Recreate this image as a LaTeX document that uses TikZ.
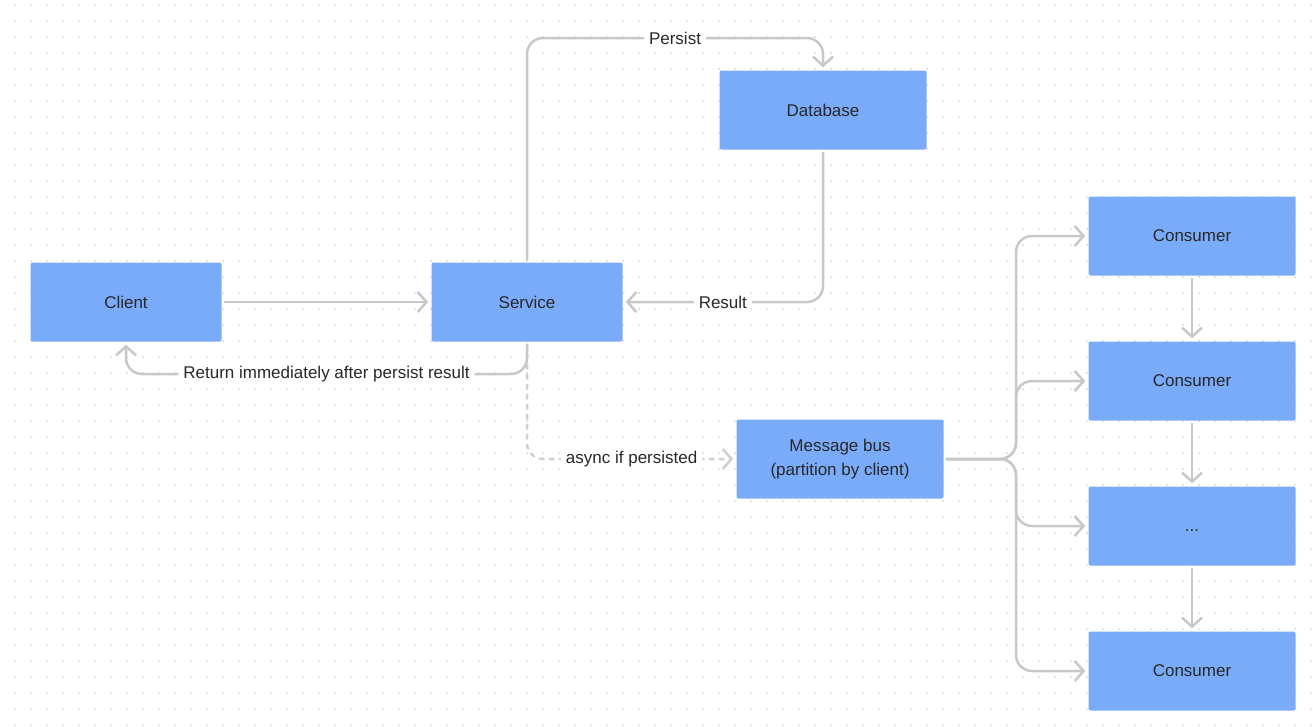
\documentclass[tikz,border=0pt]{standalone}
\usepackage{fontspec}
\setmainfont{Liberation Sans}
\usepackage{tikz}
\usetikzlibrary{arrows.meta}
\usetikzlibrary{positioning}
\definecolor{boxblue}{RGB}{122,171,249}
\definecolor{linkgray}{RGB}{200,200,200}
\definecolor{dashgray}{RGB}{208,208,208}
\definecolor{dotgray}{RGB}{226,226,226}
\definecolor{textgray}{RGB}{40,40,40}

\begin{document}
\begin{tikzpicture}[x=1pt,y=-1pt,line cap=round,line join=round,
	box/.style={draw=none,fill=boxblue,rounded corners=2pt,minimum width=191pt,minimum height=79pt,inner sep=0pt,text=textgray,font=\fontsize{17}{24}\selectfont,align=center},
	widebox/.style={box,minimum width=207pt},
	lbl/.style={fill=white,text=textgray,inner sep=5pt,font=\fontsize{17}{20}\selectfont},
	link/.style={color=linkgray,line width=2.5pt,rounded corners=16pt,shorten >=3pt,shorten <=3pt,-{Straight Barb[length=9pt,width=20pt]}},
	dlink/.style={link,color=dashgray,dash pattern=on 4pt off 6pt}]
	\useasboundingbox (0,0) rectangle (1313,726);
	% dot grid
	\foreach \x in {15,31,...,1311}
	\foreach \y in {5,21,...,725}
	\fill[color=dotgray] (\x-1,\y-1) rectangle (\x+1,\y+1);
	% boxes
	\node[box] (client) at (126,302) {Client};
	\node[box] (service) at (527,302) {Service};
	\node[widebox] (database) at (823,110) {Database};
	\node[widebox] (bus) at (840,459) {Message bus\\(partition by client)};
	\node[widebox] (consA) at (1192,236) {Consumer};
	\node[widebox] (consB) at (1192,381) {Consumer};
	\node[widebox] (consC) at (1192,526) {\vphantom{Consumer}...};
	\node[widebox] (consD) at (1192,671) {Consumer};
	% links
	\draw[link] (client) -- (service);
	\draw[dlink] (service.south) |- node[lbl,pos=0.75] {async if persisted} (bus.west);
	\draw[link] (service.south) -- (527,374) -| node[lbl,pos=0.25] {Return immediately after persist result} (client.south);
	\draw[link] (service.north) -- (527,38) -| node[lbl,pos=0.25] {Persist} (database.north);
	\draw[link] (database.south) |- node[lbl,pos=0.75] {Result} (service.east);
	\foreach \c in {consA,consB,consC,consD}
	\draw[link] (bus.east) -- (1016,459) |- (\c.west);
	\draw[link] (consA) -- (consB);
	\draw[link] (consB) -- (consC);
	\draw[link] (consC) -- (consD);
\end{tikzpicture}
\end{document}
